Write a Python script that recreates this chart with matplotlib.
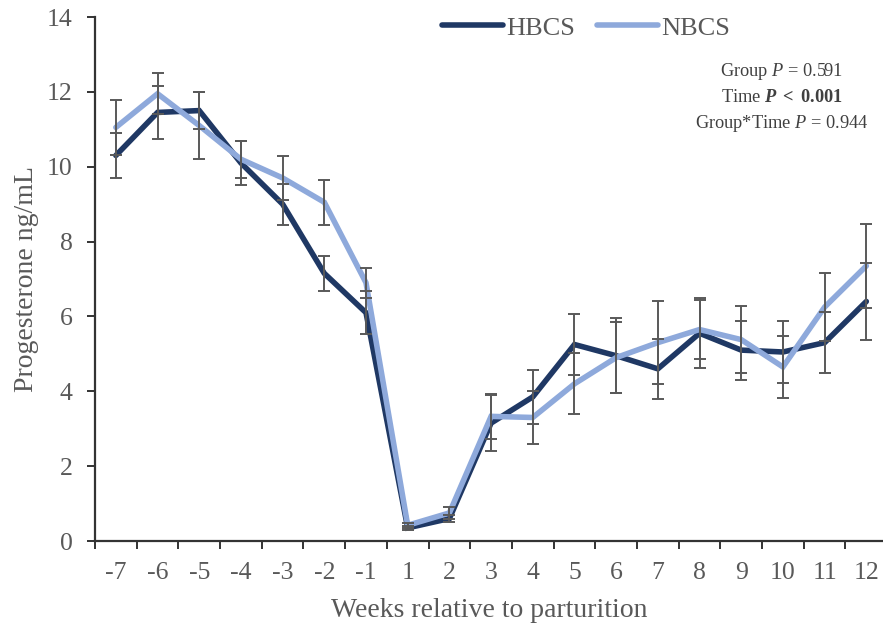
import matplotlib
matplotlib.use("Agg")
import matplotlib.pyplot as plt
import numpy as np

plt.rcParams['font.family'] = ['Liberation Serif', 'DejaVu Serif']
plt.rcParams['mathtext.fontset'] = 'custom'
plt.rcParams['mathtext.rm'] = 'Liberation Serif'
plt.rcParams['mathtext.it'] = 'Liberation Serif:italic'
plt.rcParams['mathtext.bf'] = 'Liberation Serif:bold'
plt.rcParams['mathtext.bfit'] = 'Liberation Serif:bold:italic'

weeks = ['-7', '-6', '-5', '-4', '-3', '-2', '-1', '1', '2', '3', '4', '5',
         '6', '7', '8', '9', '10', '11', '12']
hbcs = [10.3, 11.45, 11.5, 10.1, 9.0, 7.15, 6.1, 0.35, 0.6, 3.15, 3.85, 5.25,
        4.95, 4.6, 5.55, 5.1, 5.05, 5.3, 6.4]
hbcs_se = [0.6, 0.7, 0.5, 0.6, 0.55, 0.47, 0.57, 0.06, 0.1, 0.75, 0.73, 0.82,
           1.0, 0.8, 0.93, 0.79, 0.82, 0.81, 1.02]
nbcs = [11.05, 11.95, 11.1, 10.2, 9.7, 9.05, 6.9, 0.42, 0.75, 3.33, 3.3, 4.2,
        4.9, 5.3, 5.65, 5.38, 4.65, 6.25, 7.35]
nbcs_se = [0.74, 0.55, 0.9, 0.5, 0.58, 0.6, 0.4, 0.06, 0.17, 0.6, 0.7, 0.82,
           0.95, 1.1, 0.78, 0.89, 0.84, 0.9, 1.13]
y_ticks = [0, 2, 4, 6, 8, 10, 12, 14]

DARK = '#1F3864'
LIGHT = '#8EA9DB'
TEXT = '#595959'
AXIS = '#333333'
ERR = '#595959'

fig = plt.figure(figsize=(8.83, 6.28), dpi=100)
ax = fig.add_axes([95 / 883, 87 / 628, 1 - 95 / 883, (541 - 17) / 628])

x = np.arange(len(weeks))

ax.plot(x, hbcs, color=DARK, lw=4.0, solid_joinstyle='miter',
        solid_capstyle='round', label='HBCS', zorder=3)
ax.plot(x, nbcs, color=LIGHT, lw=4.0, solid_joinstyle='miter',
        solid_capstyle='round', label='NBCS', zorder=4)
for vals, se in ((hbcs, hbcs_se), (nbcs, nbcs_se)):
    ax.errorbar(x, vals, yerr=se, fmt='none', ecolor=ERR, elinewidth=1.4,
                capsize=4.5, capthick=1.4, zorder=5)

ax.set_xlim(-0.5, 18.4)
ax.set_ylim(0, 14)
ax.set_yticks(y_ticks)
ax.set_xticks(x)
ax.set_xticklabels(weeks)
ax.set_xticks(np.arange(-0.5, 18.5, 1.0), minor=True)
ax.tick_params(axis='x', which='major', length=0, pad=15, labelsize=18.5,
               labelcolor=TEXT)
ax.tick_params(axis='x', which='minor', length=6, width=1.4, color=AXIS,
               direction='out')
ax.tick_params(axis='y', length=6, width=1.4, color=AXIS, direction='out',
               labelsize=18.5, labelcolor=TEXT, pad=10)

for s in ('top', 'right'):
    ax.spines[s].set_visible(False)
for s in ('left', 'bottom'):
    ax.spines[s].set_color(AXIS)
    ax.spines[s].set_linewidth(1.6)

ax.set_xlabel('Weeks relative to parturition', fontsize=20, color=TEXT,
              labelpad=10)
ax.set_ylabel('Progesterone ng/mL', fontsize=20, color=TEXT, labelpad=6)

leg = ax.legend(loc='center', bbox_to_anchor=(0.623, (541 - 28) / 524),
                ncol=2, frameon=False, fontsize=19, handlelength=2.3,
                handletextpad=0.12, columnspacing=0.85, borderpad=0.2)
for t in leg.get_texts():
    t.set_color(TEXT)

stats = [r'Group $\mathit{P}$ = 0.591',
         r'Time $\mathbfit{P}$ $\mathbf{{<}}$ $\mathbf{0.001}$',
         r'Group*Time $\mathit{P}$ = 0.944']
for i, s in enumerate(stats):
    fig.text(782 / 883, 1 - (72 + 25.5 * i) / 628, s, ha='center',
             va='center', fontsize=13.2, color='#404040')

fig.savefig('out.png', dpi=100)
